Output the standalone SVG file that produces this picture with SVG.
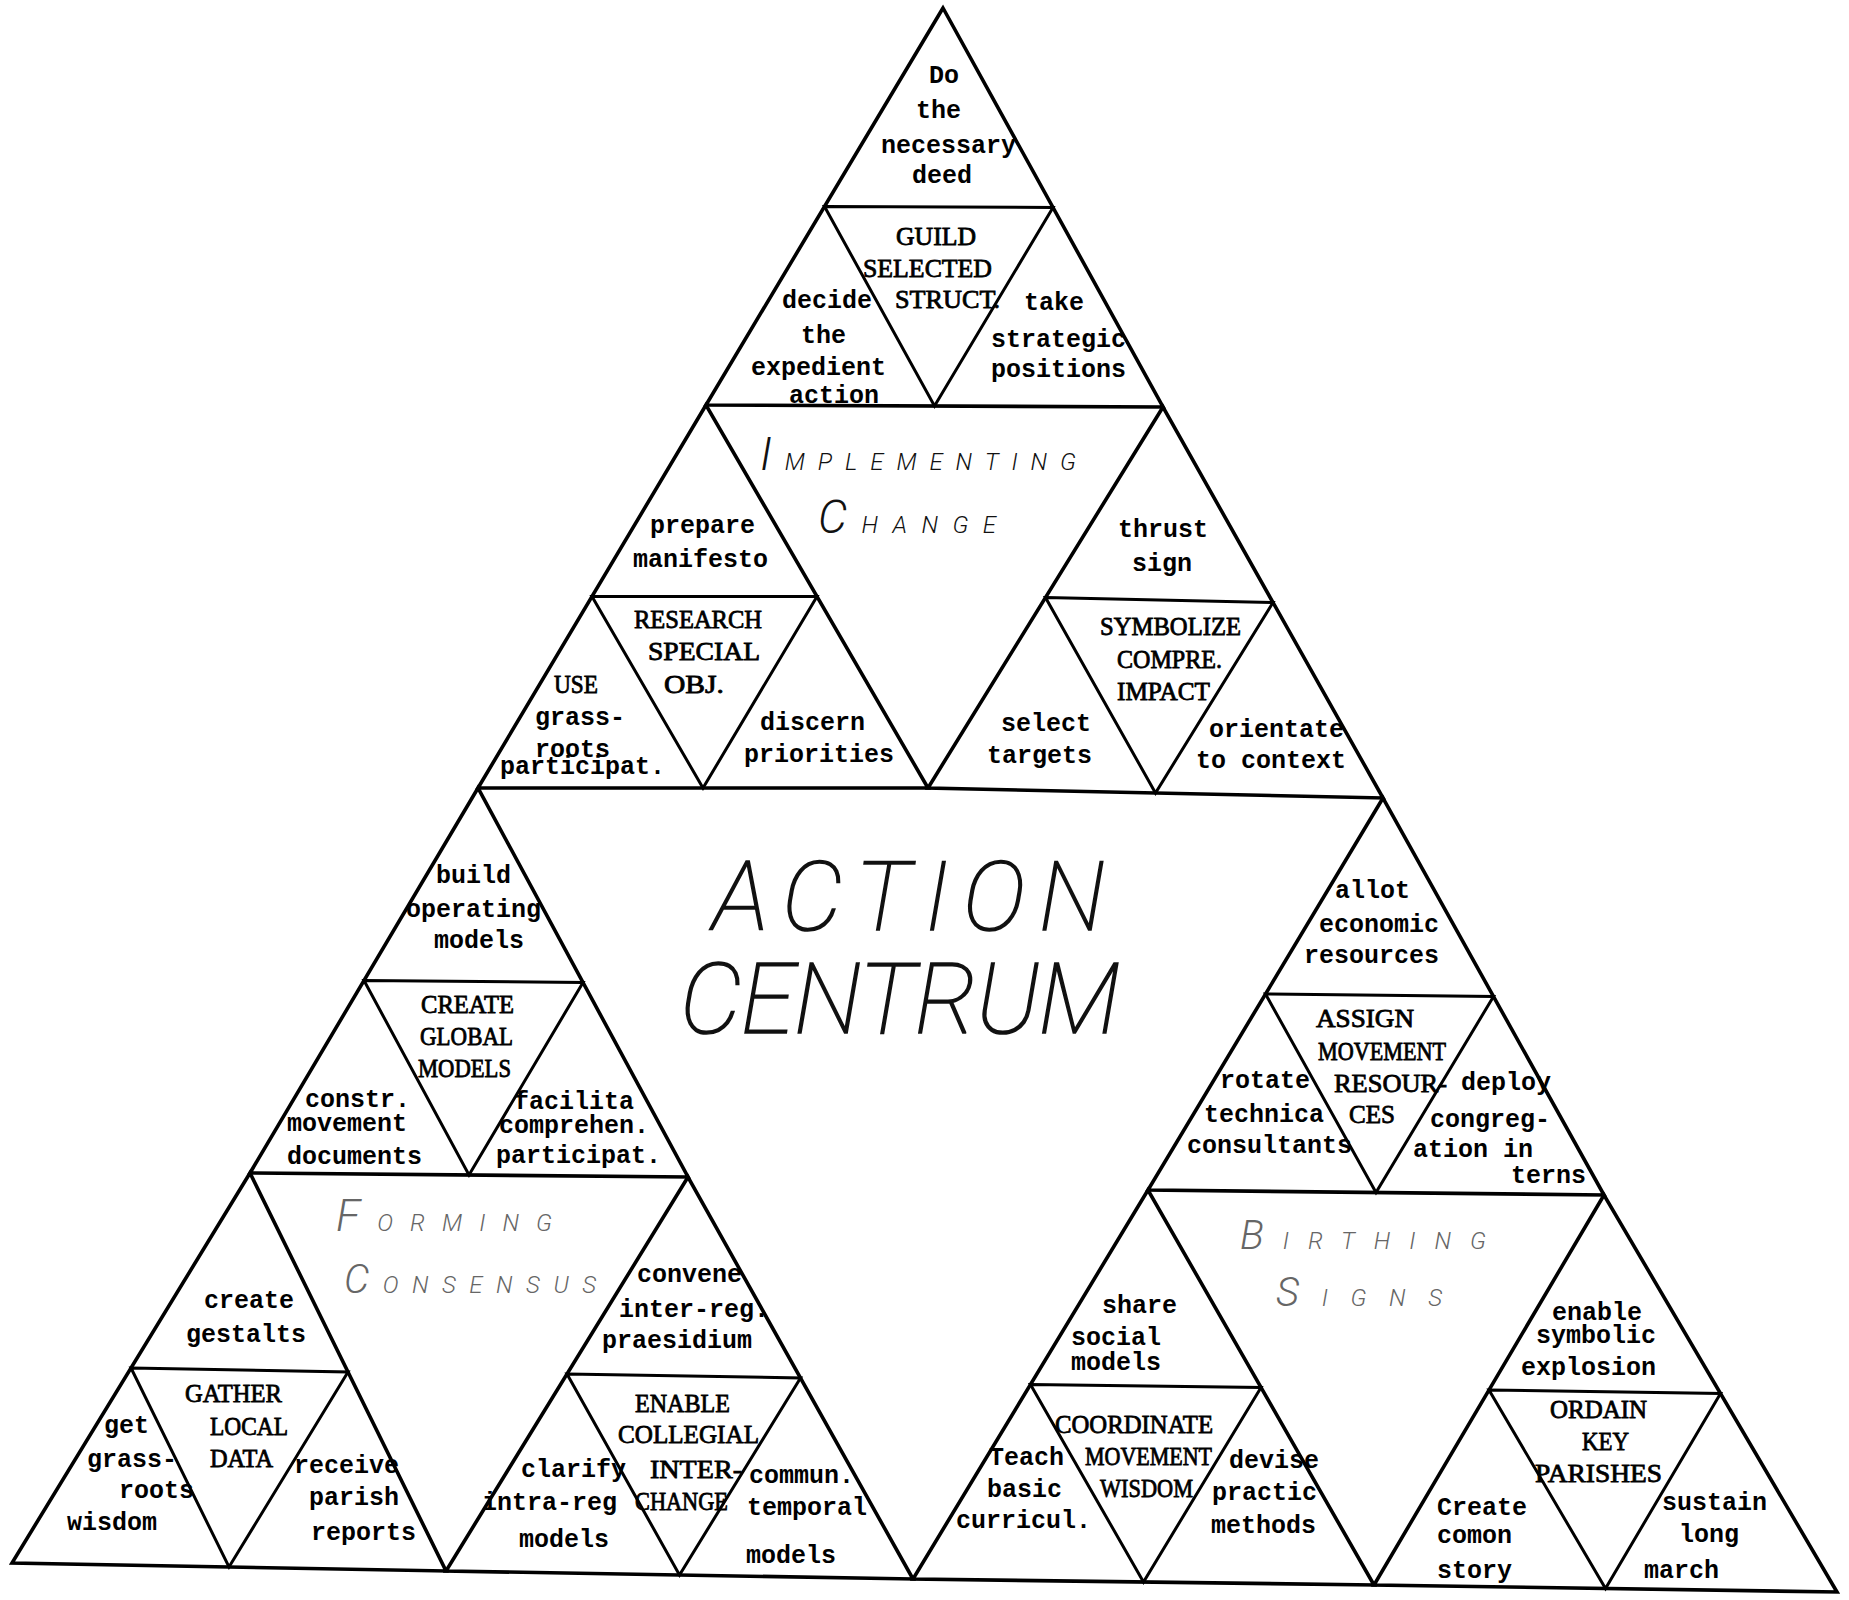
<svg xmlns="http://www.w3.org/2000/svg" width="1849" height="1600" viewBox="0 0 1849 1600">
<style>
.o{fill:none;stroke:#000;stroke-width:3.6;stroke-linejoin:miter}
.i{fill:none;stroke:#000;stroke-width:3}
.t{font-family:'Liberation Mono','Courier New',monospace;font-size:25px;font-weight:bold;fill:#000}
.c{font-family:'Liberation Serif','Times New Roman',serif;font-size:26px;font-weight:normal;fill:#000;stroke:#000;stroke-width:0.8}
.a{font-family:Roboto,'Open Sans','DejaVu Sans',sans-serif;font-weight:100;font-style:italic;fill:#111;stroke:#111;stroke-width:1.6}
.h{font-family:Roboto,'Open Sans','DejaVu Sans',sans-serif;font-weight:300;font-style:italic;fill:#111}
.hf{font-family:Roboto,'Open Sans','DejaVu Sans',sans-serif;font-weight:300;font-style:italic;fill:#666}
</style>
<rect width="1849" height="1600" fill="#fff"/>
<g id="connectors">
<polygon class="o" points="943,8 706,405 1163,407"/>
<polygon class="o" points="706,405 478,788 928,788"/>
<polygon class="o" points="1163,407 928,788 1383,798"/>
<polygon class="o" points="478,788 250,1173 688,1177"/>
<polygon class="o" points="250,1173 12,1563 446,1571"/>
<polygon class="o" points="688,1177 446,1571 913,1579"/>
<polygon class="o" points="1383,798 1148,1190 1604,1195"/>
<polygon class="o" points="1148,1190 913,1579 1374,1585"/>
<polygon class="o" points="1604,1195 1374,1585 1837,1592"/>
<polygon class="i" points="824.5,206.5 1053,207.5 934.5,406"/>
<polygon class="i" points="592,596.5 817,596.5 703,788"/>
<polygon class="i" points="1045.5,597.5 1273,602.5 1155.5,793"/>
<polygon class="i" points="364,980.5 583,982.5 469,1175"/>
<polygon class="i" points="131,1368 348,1372 229,1567"/>
<polygon class="i" points="567,1374 800.5,1378 679.5,1575"/>
<polygon class="i" points="1265.5,994 1493.5,996.5 1376,1192.5"/>
<polygon class="i" points="1030.5,1384.5 1261,1387.5 1143.5,1582"/>
<polygon class="i" points="1489,1390 1720.5,1393.5 1605.5,1588.5"/>
</g>

<g id="action-centrum">
<text class="a" x="713" y="930" font-size="96" textLength="392" lengthAdjust="spacing">ACTION</text>
<text class="a" x="680" y="1033" font-size="98" textLength="440" lengthAdjust="spacing">CENTRUM</text>
</g>
<g id="implementing-change">
<text class="h" x="760" y="470" textLength="316" lengthAdjust="spacing"><tspan font-size="46">I</tspan><tspan font-size="24">MPLEMENTING</tspan></text>
<text class="h" x="818" y="533" textLength="178" lengthAdjust="spacing"><tspan font-size="46">C</tspan><tspan font-size="24">HANGE</tspan></text>
</g>
<g id="forming-consensus">
<text class="hf" x="336" y="1231" textLength="216" lengthAdjust="spacing"><tspan font-size="44">F</tspan><tspan font-size="24">ORMING</tspan></text>
<text class="hf" x="344" y="1293" textLength="252" lengthAdjust="spacing"><tspan font-size="40">C</tspan><tspan font-size="24">ONSENSUS</tspan></text>
</g>
<g id="birthing-signs">
<text class="hf" x="1240" y="1249" textLength="246" lengthAdjust="spacing"><tspan font-size="40">B</tspan><tspan font-size="24">IRTHING</tspan></text>
<text class="hf" x="1276" y="1306" textLength="166" lengthAdjust="spacing"><tspan font-size="40">S</tspan><tspan font-size="24">IGNS</tspan></text>
</g>

<g id="do-the-necessary-deed"><text class="t"><tspan x="929" y="83">Do</tspan><tspan x="916" y="118">the</tspan><tspan x="881" y="153">necessary</tspan><tspan x="912" y="183">deed</tspan></text></g>
<g id="guild-selected-struct">
<text class="c" x="896" y="245" textLength="80" lengthAdjust="spacingAndGlyphs">GUILD</text>
<text class="c" x="863" y="277" textLength="129" lengthAdjust="spacingAndGlyphs">SELECTED</text>
<text class="c" x="895" y="308" textLength="105" lengthAdjust="spacingAndGlyphs">STRUCT.</text>
</g>
<g id="decide-the-expedient-action"><text class="t"><tspan x="782" y="308">decide</tspan><tspan x="801" y="343">the</tspan><tspan x="751" y="375">expedient</tspan><tspan x="789" y="403">action</tspan></text></g>
<g id="take-strategic-positions"><text class="t"><tspan x="1024" y="310">take</tspan><tspan x="991" y="347">strategic</tspan><tspan x="991" y="377">positions</tspan></text></g>

<g id="prepare-manifesto"><text class="t"><tspan x="650" y="533">prepare</tspan><tspan x="633" y="567">manifesto</tspan></text></g>
<g id="research-special-obj">
<text class="c" x="634" y="628" textLength="128" lengthAdjust="spacingAndGlyphs">RESEARCH</text>
<text class="c" x="648" y="660" textLength="112" lengthAdjust="spacingAndGlyphs">SPECIAL</text>
<text class="c" x="664" y="693" textLength="60" lengthAdjust="spacingAndGlyphs">OBJ.</text>
</g>
<g id="use-grass-roots-participat">
<text class="c" x="554" y="693" textLength="44" lengthAdjust="spacingAndGlyphs">USE</text>
<text class="t"><tspan x="535" y="725">grass-</tspan><tspan x="535" y="757">roots</tspan><tspan x="500" y="774">participat.</tspan></text>
</g>
<g id="discern-priorities"><text class="t"><tspan x="760" y="730">discern</tspan><tspan x="744" y="762">priorities</tspan></text></g>

<g id="thrust-sign"><text class="t"><tspan x="1118" y="537">thrust</tspan><tspan x="1132" y="571">sign</tspan></text></g>
<g id="symbolize-compre-impact">
<text class="c" x="1100" y="635" textLength="141" lengthAdjust="spacingAndGlyphs">SYMBOLIZE</text>
<text class="c" x="1117" y="668" textLength="105" lengthAdjust="spacingAndGlyphs">COMPRE.</text>
<text class="c" x="1117" y="700" textLength="93" lengthAdjust="spacingAndGlyphs">IMPACT</text>
</g>
<g id="select-targets"><text class="t"><tspan x="1001" y="731">select</tspan><tspan x="987" y="763">targets</tspan></text></g>
<g id="orientate-to-context"><text class="t"><tspan x="1209" y="737">orientate</tspan><tspan x="1196" y="768">to context</tspan></text></g>

<g id="build-operating-models"><text class="t"><tspan x="436" y="883">build</tspan><tspan x="406" y="917">operating</tspan><tspan x="434" y="948">models</tspan></text></g>
<g id="create-global-models">
<text class="c" x="421" y="1013" textLength="93" lengthAdjust="spacingAndGlyphs">CREATE</text>
<text class="c" x="420" y="1045" textLength="93" lengthAdjust="spacingAndGlyphs">GLOBAL</text>
<text class="c" x="418" y="1077" textLength="93" lengthAdjust="spacingAndGlyphs">MODELS</text>
</g>
<g id="constr-movement-documents"><text class="t"><tspan x="305" y="1107">constr.</tspan><tspan x="287" y="1131">movement</tspan><tspan x="287" y="1164">documents</tspan></text></g>
<g id="facilita-comprehen-participat"><text class="t"><tspan x="514" y="1109">facilita</tspan><tspan x="499" y="1133">comprehen.</tspan><tspan x="496" y="1163">participat.</tspan></text></g>

<g id="create-gestalts"><text class="t"><tspan x="204" y="1308">create</tspan><tspan x="186" y="1342">gestalts</tspan></text></g>
<g id="gather-local-data">
<text class="c" x="185" y="1402" textLength="97" lengthAdjust="spacingAndGlyphs">GATHER</text>
<text class="c" x="210" y="1435" textLength="78" lengthAdjust="spacingAndGlyphs">LOCAL</text>
<text class="c" x="210" y="1467" textLength="63" lengthAdjust="spacingAndGlyphs">DATA</text>
</g>
<g id="get-grass-roots-wisdom"><text class="t"><tspan x="104" y="1433">get</tspan><tspan x="87" y="1467">grass-</tspan><tspan x="119" y="1498">roots</tspan><tspan x="67" y="1530">wisdom</tspan></text></g>
<g id="receive-parish-reports"><text class="t"><tspan x="294" y="1473">receive</tspan><tspan x="309" y="1505">parish</tspan><tspan x="311" y="1540">reports</tspan></text></g>

<g id="convene-inter-reg-praesidium"><text class="t"><tspan x="637" y="1282">convene</tspan><tspan x="619" y="1317">inter-reg.</tspan><tspan x="602" y="1348">praesidium</tspan></text></g>
<g id="enable-collegial-interchange">
<text class="c" x="635" y="1412" textLength="95" lengthAdjust="spacingAndGlyphs">ENABLE</text>
<text class="c" x="618" y="1443" textLength="141" lengthAdjust="spacingAndGlyphs">COLLEGIAL</text>
<text class="c" x="650" y="1478" textLength="92" lengthAdjust="spacingAndGlyphs">INTER-</text>
<text class="c" x="635" y="1510" textLength="93" lengthAdjust="spacingAndGlyphs">CHANGE</text>
</g>
<g id="clarify-intra-reg-models"><text class="t"><tspan x="521" y="1477">clarify</tspan><tspan x="482" y="1510">intra-reg</tspan><tspan x="519" y="1547">models</tspan></text></g>
<g id="commun-temporal-models"><text class="t"><tspan x="749" y="1483">commun.</tspan><tspan x="747" y="1515">temporal</tspan><tspan x="746" y="1563">models</tspan></text></g>

<g id="allot-economic-resources"><text class="t"><tspan x="1335" y="898">allot</tspan><tspan x="1319" y="932">economic</tspan><tspan x="1304" y="963">resources</tspan></text></g>
<g id="assign-movement-resources">
<text class="c" x="1316" y="1027" textLength="98" lengthAdjust="spacingAndGlyphs">ASSIGN</text>
<text class="c" x="1318" y="1060" textLength="128" lengthAdjust="spacingAndGlyphs">MOVEMENT</text>
<text class="c" x="1334" y="1092" textLength="113" lengthAdjust="spacingAndGlyphs">RESOUR-</text>
<text class="c" x="1349" y="1123" textLength="46" lengthAdjust="spacingAndGlyphs">CES</text>
</g>
<g id="rotate-technica-consultants"><text class="t"><tspan x="1220" y="1088">rotate</tspan><tspan x="1204" y="1122">technica</tspan><tspan x="1187" y="1153">consultants</tspan></text></g>
<g id="deploy-congregation-interns"><text class="t"><tspan x="1461" y="1090">deploy</tspan><tspan x="1430" y="1127">congreg-</tspan><tspan x="1413" y="1157">ation in</tspan><tspan x="1511" y="1183">terns</tspan></text></g>

<g id="share-social-models"><text class="t"><tspan x="1102" y="1313">share</tspan><tspan x="1071" y="1345">social</tspan><tspan x="1071" y="1370">models</tspan></text></g>
<g id="coordinate-movement-wisdom">
<text class="c" x="1055" y="1433" textLength="158" lengthAdjust="spacingAndGlyphs">COORDINATE</text>
<text class="c" x="1085" y="1465" textLength="127" lengthAdjust="spacingAndGlyphs">MOVEMENT</text>
<text class="c" x="1100" y="1497" textLength="93" lengthAdjust="spacingAndGlyphs">WISDOM</text>
</g>
<g id="teach-basic-curricul"><text class="t"><tspan x="989" y="1465">Teach</tspan><tspan x="987" y="1497">basic</tspan><tspan x="956" y="1528">curricul.</tspan></text></g>
<g id="devise-practic-methods"><text class="t"><tspan x="1229" y="1468">devise</tspan><tspan x="1212" y="1500">practic</tspan><tspan x="1211" y="1533">methods</tspan></text></g>

<g id="enable-symbolic-explosion"><text class="t"><tspan x="1552" y="1320">enable</tspan><tspan x="1536" y="1343">symbolic</tspan><tspan x="1521" y="1375">explosion</tspan></text></g>
<g id="ordain-key-parishes">
<text class="c" x="1550" y="1418" textLength="97" lengthAdjust="spacingAndGlyphs">ORDAIN</text>
<text class="c" x="1582" y="1450" textLength="47" lengthAdjust="spacingAndGlyphs">KEY</text>
<text class="c" x="1535" y="1482" textLength="127" lengthAdjust="spacingAndGlyphs">PARISHES</text>
</g>
<g id="create-comon-story"><text class="t"><tspan x="1437" y="1515">Create</tspan><tspan x="1437" y="1543">comon</tspan><tspan x="1437" y="1578">story</tspan></text></g>
<g id="sustain-long-march"><text class="t"><tspan x="1662" y="1510">sustain</tspan><tspan x="1679" y="1542">long</tspan><tspan x="1644" y="1578">march</tspan></text></g>
</svg>
